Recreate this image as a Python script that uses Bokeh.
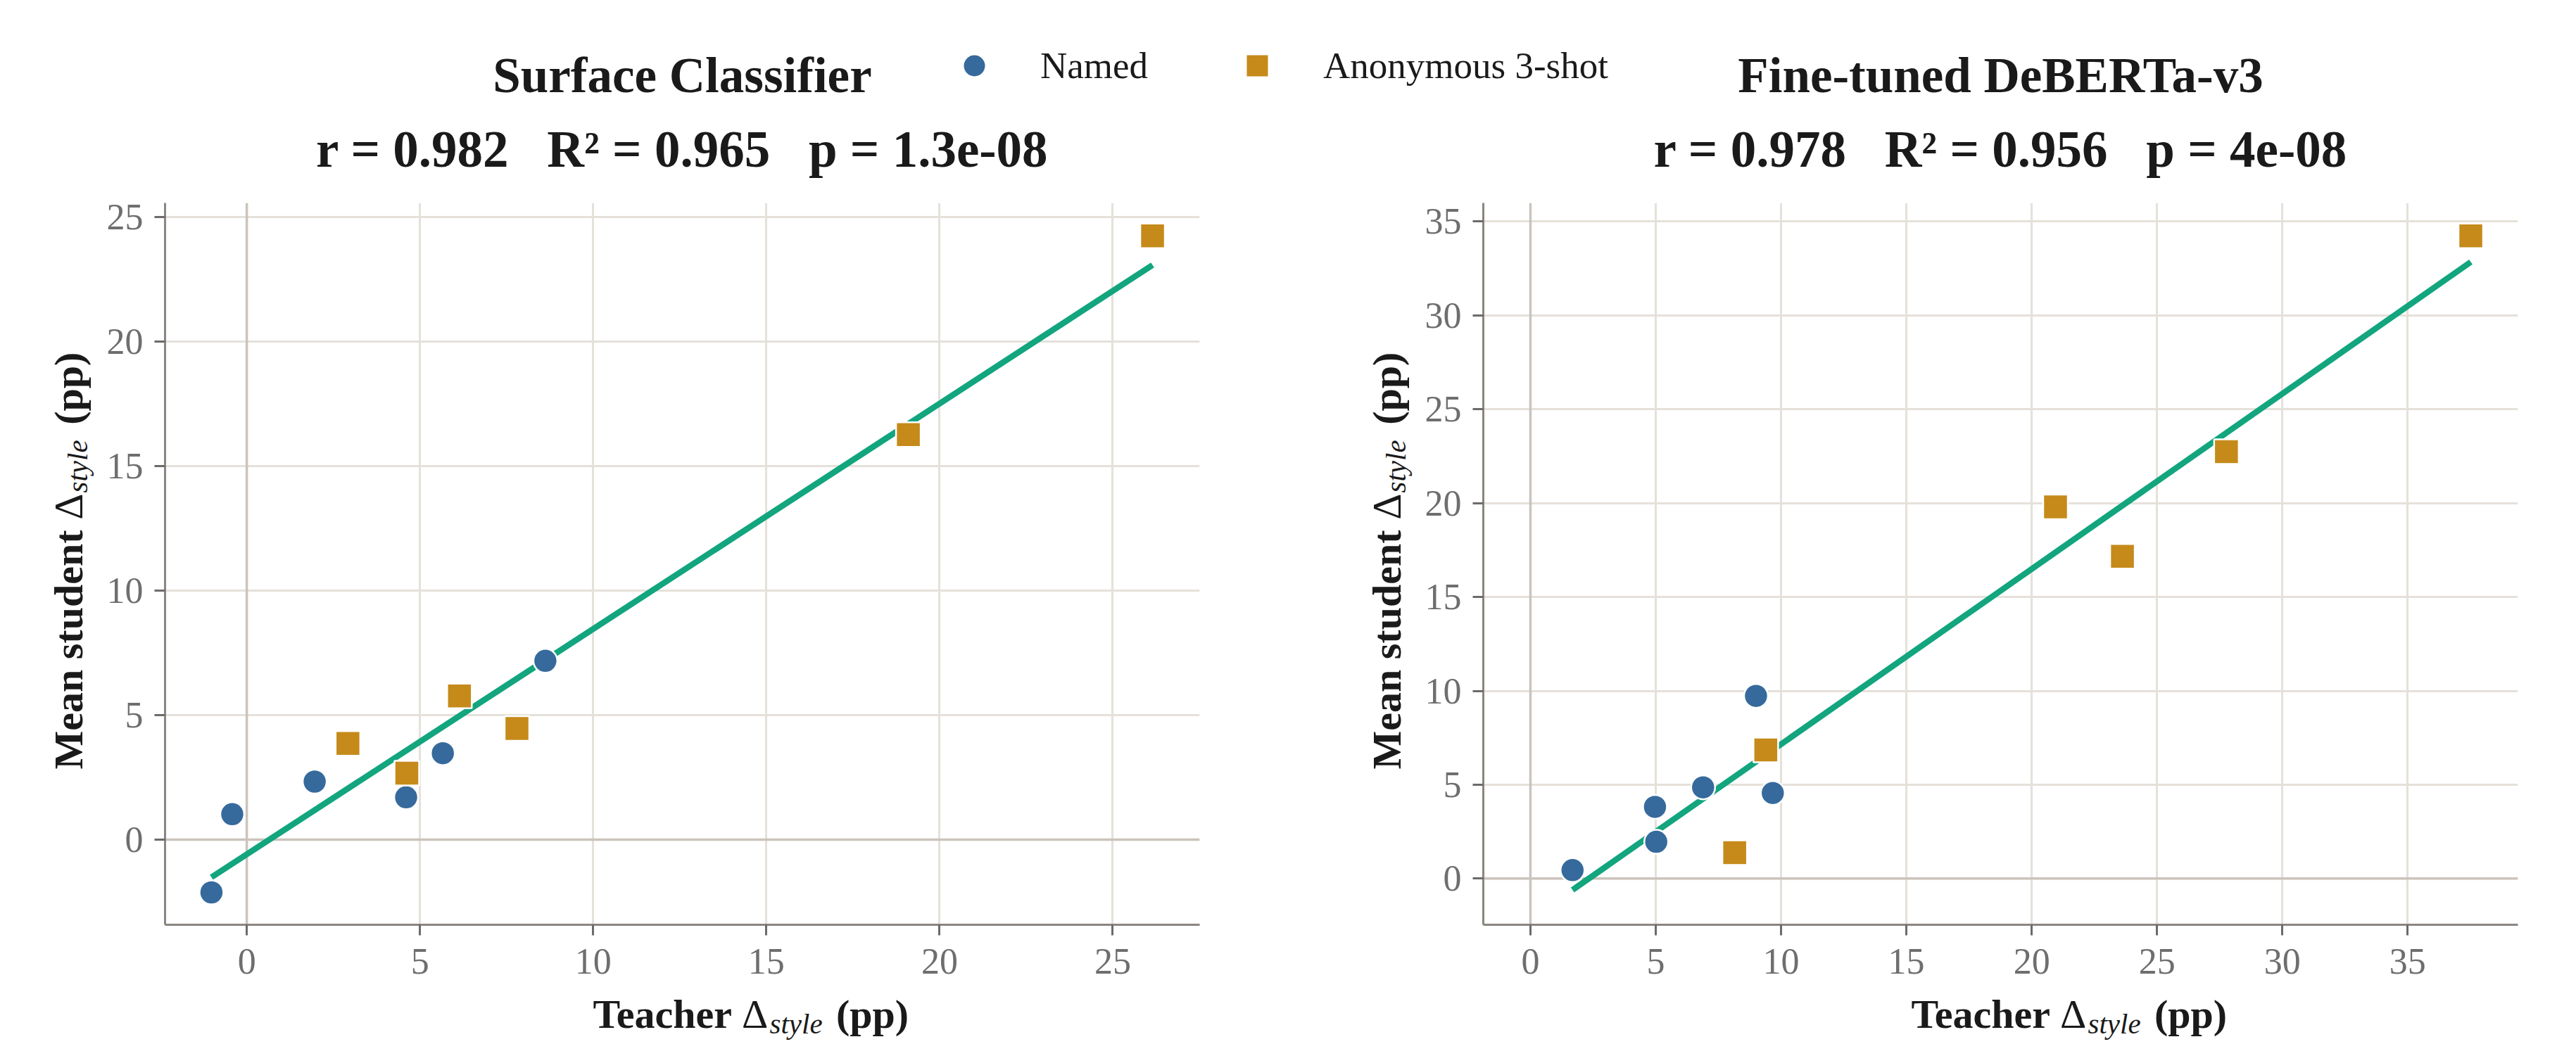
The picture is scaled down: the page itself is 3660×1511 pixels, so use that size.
import math
import numpy as np
from bokeh.plotting import figure
from bokeh.models import Range1d, SingleIntervalTicker, Span, Label, Legend, LegendItem
from bokeh.layouts import column, row
from bokeh.embed import file_html
from bokeh.resources import INLINE

# ---------------- data ----------------
surface_named_x = [-1.02, -0.42, 1.96, 4.60, 5.66, 8.62]
surface_named_y = [-2.12, 1.02, 2.33, 1.70, 3.47, 7.18]
surface_anon_x = [2.92, 4.62, 6.14, 7.80, 19.10, 26.15]
surface_anon_y = [3.86, 2.67, 5.77, 4.46, 16.27, 24.25]

deberta_named_x = [1.68, 4.97, 5.02, 6.89, 9.00, 9.67]
deberta_named_y = [0.45, 3.82, 1.96, 4.86, 9.73, 4.56]
deberta_anon_x = [8.15, 9.39, 20.95, 23.62, 27.77, 37.52]
deberta_anon_y = [1.38, 6.85, 19.80, 17.17, 22.74, 34.24]

titles = ["Surface Classifier", "Fine-tuned DeBERTa-v3"]
stats = ["r = 0.982 \u2002R\u00b2 = 0.965 \u2002p = 1.3e-08",
         "r = 0.978 \u2002R\u00b2 = 0.956 \u2002p = 4e-08"]
series_labels = ["Named", "Anonymous 3-shot"]
x_label_lead = "Teacher"
y_label_lead = "Mean student"
x_ranges = [(-2.36, 27.51), (-1.88, 39.40)]
y_ranges = [(-3.42, 25.57), (-2.46, 35.99)]

# ---------------- style ----------------
FONT = "Liberation Serif"
NAMED_COLOR = "#366a9c"
ANON_COLOR = "#c58a19"
FIT_COLOR = "#12a57e"
GRID_COLOR = "#e5e1da"
ZERO_COLOR = "#cbc4bc"
SPINE_COLOR = "#8a8680"
TICK_COLOR = "#6b6b6b"
TICKLABEL_COLOR = "#6e6e6e"
TEXT_COLOR = "#1a1a1a"
MID = 0.35  # distance from baseline to text middle, in em

FW, FH = 1470, 1026
HEAD_H = 258
MB_TOP, MB_BOTTOM = 30, 95
MB_LEFT = 89
MB_RIGHT = [126, 73]
YSTRIP_W = [145, 188]
XSTRIP_H = 92
PLOT_H = MB_TOP + FH + MB_BOTTOM
YLABEL_GAP = 117   # baseline of the y label, left of the frame


def strip(w, h):
    f = figure(width=w, height=h, x_range=Range1d(0, w), y_range=Range1d(0, h),
               x_axis_type=None, y_axis_type=None, output_backend="svg",
               toolbar_location=None, min_border=0, outline_line_color=None,
               background_fill_color="white", border_fill_color="white")
    return f


def lab(f, x, y, text, size, style="normal", align="left", angle=0.0):
    f.add_layout(Label(x=x, y=y, x_units="screen", y_units="screen", text=text,
                       text_font=FONT, text_font_size=f"{size}px",
                       text_font_style=style, text_color=TEXT_COLOR,
                       text_align=align, text_baseline="middle", angle=angle))


def x_label_strip(width):
    f = strip(width, XSTRIP_H)
    cx = MB_LEFT + FW / 2
    base = 40          # main baseline above strip bottom
    sub = 32           # subscript baseline
    m = base + MID * 58
    lab(f, cx - 18.5, m, x_label_lead, 58, "bold", "right")
    lab(f, cx - 4.5, m, "\u0394", 58)
    lab(f, cx + 35, sub + MID * 41, "style", 41, "italic")
    lab(f, cx + 129.5, m, "(pp)", 58, "bold")
    return f


def y_label_strip(width):
    h = PLOT_H + XSTRIP_H
    f = strip(width, h)
    cy = XSTRIP_H + MB_BOTTOM + FH / 2
    base = width + MB_LEFT - YLABEL_GAP
    a = math.pi / 2
    mx = base - MID * 58
    lab(f, mx, cy + 48, y_label_lead, 58, "bold", "right", a)
    lab(f, mx, cy + 62.7, "\u0394", 58, angle=a)
    lab(f, base + 7 - MID * 41, cy + 101, "style", 41, "italic", angle=a)
    lab(f, mx, cy + 197.7, "(pp)", 58, "bold", angle=a)
    return f


def make_panel(nx, ny, axs, ays, xr, yr, mbr):
    p = figure(frame_width=FW, frame_height=FH,
               x_range=Range1d(*xr), y_range=Range1d(*yr),
               output_backend="svg", toolbar_location=None,
               min_border_left=MB_LEFT, min_border_right=mbr,
               min_border_top=MB_TOP, min_border_bottom=MB_BOTTOM,
               background_fill_color="white", border_fill_color="white",
               outline_line_color=None)

    for g in (p.xgrid[0], p.ygrid[0]):
        g.grid_line_color = GRID_COLOR
        g.grid_line_width = 3

    p.add_layout(Span(location=0, dimension="height", line_color=ZERO_COLOR,
                      line_width=3.5, level="underlay"))
    p.add_layout(Span(location=0, dimension="width", line_color=ZERO_COLOR,
                      line_width=3.5, level="underlay"))

    all_x = np.array(nx + axs, dtype=float)
    all_y = np.array(ny + ays, dtype=float)
    slope, intercept = np.polyfit(all_x, all_y, 1)
    fit_x = [all_x.min(), all_x.max()]
    fit_y = [slope * v + intercept for v in fit_x]
    p.line(fit_x, fit_y, line_color=FIT_COLOR, line_width=8.5)

    p.scatter(nx, ny, marker="circle", size=34, fill_color=NAMED_COLOR,
              line_color="white", line_width=2.5)
    p.scatter(axs, ays, marker="square", size=35, fill_color=ANON_COLOR,
              line_color="white", line_width=2.5)

    for ax in (p.xaxis[0], p.yaxis[0]):
        ax.ticker = SingleIntervalTicker(interval=5, num_minor_ticks=0)
        ax.axis_line_color = SPINE_COLOR
        ax.axis_line_width = 3
        ax.major_tick_line_color = TICK_COLOR
        ax.major_tick_line_width = 3
        ax.major_tick_out = 15
        ax.major_tick_in = 0
        ax.minor_tick_line_color = None
        ax.major_label_text_font = FONT
        ax.major_label_text_font_size = "52px"
        ax.major_label_text_color = TICKLABEL_COLOR
    p.xaxis[0].major_label_standoff = 19
    p.yaxis[0].major_label_standoff = 16
    return p


left = make_panel(surface_named_x, surface_named_y, surface_anon_x, surface_anon_y,
                  x_ranges[0], y_ranges[0], MB_RIGHT[0])
right = make_panel(deberta_named_x, deberta_named_y, deberta_anon_x, deberta_anon_y,
                   x_ranges[1], y_ranges[1], MB_RIGHT[1])

panel_w = [MB_LEFT + FW + MB_RIGHT[0], MB_LEFT + FW + MB_RIGHT[1]]
total_w = YSTRIP_W[0] + panel_w[0] + YSTRIP_W[1] + panel_w[1]

# ---------------- header strip: titles + shared legend ----------------
head = strip(total_w, HEAD_H)
centers = [YSTRIP_W[0] + MB_LEFT + FW / 2,
           YSTRIP_W[0] + panel_w[0] + YSTRIP_W[1] + MB_LEFT + FW / 2]
for cx, t, s in zip(centers, titles, stats):
    lab(head, cx, 127 + MID * 71, t, 71, "bold", "center")
    lab(head, cx, 20 + MID * 73, s, 73, "bold", "center")

r_named = head.scatter(x=[np.nan], y=[np.nan], marker="circle", size=32,
                       fill_color=NAMED_COLOR, line_color="white", line_width=2)
r_anon = head.scatter(x=[np.nan], y=[np.nan], marker="square", size=32,
                      fill_color=ANON_COLOR, line_color="white", line_width=2)
legend = Legend(items=[LegendItem(label=series_labels[0], renderers=[r_named]),
                       LegendItem(label=series_labels[1], renderers=[r_anon])],
                orientation="horizontal", location=(1344, 125),
                glyph_width=80, glyph_height=80, label_standoff=54, spacing=115,
                padding=0, margin=0, border_line_color=None,
                background_fill_alpha=0, label_text_font=FONT,
                label_text_font_size="53px", label_text_color=TEXT_COLOR)
head.add_layout(legend)

left_col = column(left, x_label_strip(panel_w[0]))
right_col = column(right, x_label_strip(panel_w[1]))
body = row(y_label_strip(YSTRIP_W[0]), left_col, y_label_strip(YSTRIP_W[1]), right_col)
layout = column(head, body)

open("out.html", "w", encoding="utf-8").write(file_html(layout, INLINE))
